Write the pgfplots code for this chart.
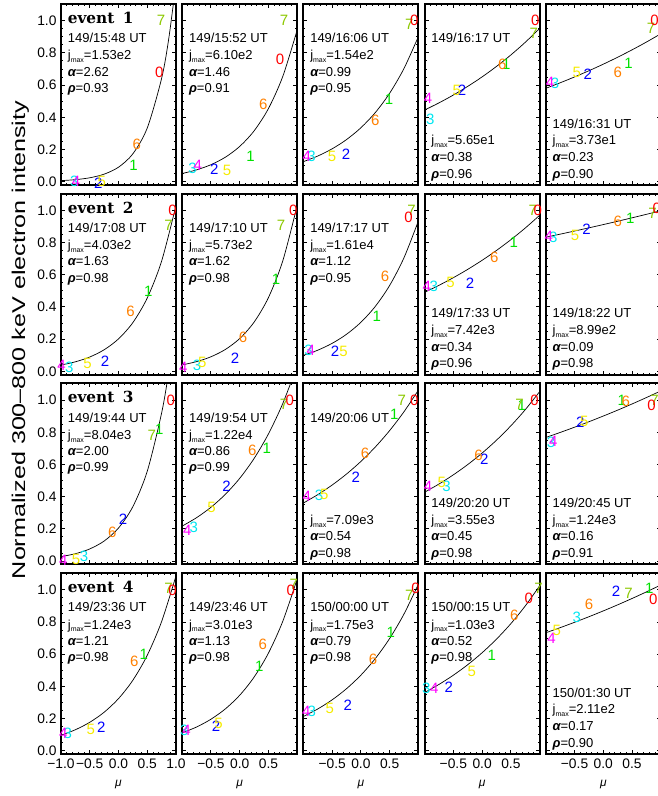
\documentclass[border=0pt]{standalone}
\usepackage{graphicx}
\usepackage{fontspec}
\setmainfont{Liberation Sans}
\newfontfamily\evfont{DejaVu Serif}
\usepackage{pgfplots}
\pgfplotsset{compat=1.18}

% colours of the eight sector numbers
\definecolor{d0}{RGB}{255,0,0}
\definecolor{d1}{RGB}{0,225,0}
\definecolor{d2}{RGB}{0,0,255}
\definecolor{d3}{RGB}{0,230,240}
\definecolor{d4}{RGB}{255,0,255}
\definecolor{d5}{RGB}{245,235,0}
\definecolor{d6}{RGB}{255,128,0}
\definecolor{d7}{RGB}{140,200,0}

\newcommand\jm{j\raisebox{-0.22em}{\fontsize{7}{7}\selectfont max}}
\newcommand\al{{\bfseries\itshape α}}
\newcommand\rh{{\bfseries\itshape ρ}}
\newcommand\evt[1]{\node[evnode] at (rel axis cs:0.058,0.892) {event\hspace{0.55em}#1};}
\newcommand\ttop[1]{\node[info] at (rel axis cs:0.058,0.785) {#1 UT};}
\newcommand\ftop[3]{%
  \node[info] at (rel axis cs:0.058,0.690) {\jm=#1};
  \node[info] at (rel axis cs:0.058,0.601) {\al=#2};
  \node[info] at (rel axis cs:0.058,0.511) {\rh=#3};}
\newcommand\tbot[1]{\node[info] at (rel axis cs:0.058,0.313) {#1 UT};}
\newcommand\fbot[3]{%
  \node[info] at (rel axis cs:0.058,0.221) {\jm=#1};
  \node[info] at (rel axis cs:0.058,0.129) {\al=#2};
  \node[info] at (rel axis cs:0.058,0.037) {\rh=#3};}

\tikzset{
  info/.style={anchor=base west, inner sep=0pt, font=\fontsize{13}{15}\selectfont},
  evnode/.style={anchor=base west, inner sep=0pt, font=\evfont\bfseries\fontsize{15.3}{17}\selectfont},
}

\pgfplotsset{
  panel/.style={
    scale only axis, width=115pt, height=181.1pt,
    xmin=-1, xmax=1, ymin=-0.02, ymax=1.105,
    anchor=north west,
    axis line style={line width=2pt},
    every tick/.style={black, line width=1pt},
    major tick length=4pt, minor tick length=2pt,
    xtick={-1,-0.5,0,0.5,1}, ytick={0,0.2,0.4,0.6,0.8,1},
    minor x tick num=4, minor y tick num=3,
    xticklabels={}, yticklabels={},
    tick label style={font=\fontsize{13.8}{14}\selectfont},
    xticklabel style={yshift=-1.5pt},
    yticklabel style={xshift=-1pt},
  },
  firstcol/.style={yticklabels={0.0,0.2,0.4,0.6,0.8,1.0}},
  lastrow/.style={
    xticklabels={{},−0.5,0.0,0.5,{}},
    xlabel={\itshape μ},
    xlabel style={at={(axis description cs:0.5,0)}, anchor=base, yshift=-32pt,
      font=\fontsize{12}{13}\selectfont},
  },
  lastrowfirst/.style={lastrow, xticklabels={−1.0,−0.5,0.0,0.5,1.0}},
  fit/.style={black, line width=0.7pt, smooth, mark=none},
  digits/.style={draw=none, mark=none, point meta=explicit symbolic,
    nodes near coords={\textcolor{d\pgfplotspointmeta}{\pgfplotspointmeta}},
    every node near coord/.style={anchor=center, inner sep=0pt,
      font=\fontsize{15}{15}\selectfont}},
}

\begin{document}
\begin{tikzpicture}

% ---------------- event 1 ----------------
\begin{axis}[panel, firstcol, at={(61pt,-3.8pt)}]
\addplot[fit] coordinates {(-1,0.00655) (-0.75,0.01261) (-0.5,0.02428) (-0.25,0.04675) (0,0.09) (0.25,0.17326) (0.5,0.33356) (0.75,0.64214) (0.875,0.891) (1,1.2362)};
\addplot[digits] table[row sep=\\, meta=d] {x y d\\ -0.77 0.00 3\\ -0.74 0.00 4\\ -0.35 -0.01 2\\ -0.29 0.00 5\\ 0.26 0.10 1\\ 0.32 0.23 6\\ 0.71 0.68 0\\ 0.74 1.00 7\\};
\evt{1}\ttop{149/15:48}\ftop{1.53e2}{2.62}{0.93}
\end{axis}

\begin{axis}[panel, at={(182.2pt,-3.8pt)}]
\addplot[fit] coordinates {(-1,0.05086) (-0.75,0.07326) (-0.5,0.10554) (-0.25,0.15203) (0,0.219) (0.25,0.31547) (0.5,0.45445) (0.75,0.65464) (1,0.94301)};
\addplot[digits] table[row sep=\\, meta=d] {x y d\\ -0.82 0.08 3\\ -0.73 0.10 4\\ -0.44 0.08 2\\ -0.22 0.07 5\\ 0.19 0.16 1\\ 0.41 0.48 6\\ 0.70 0.76 0\\ 0.77 1.00 7\\};
\ttop{149/15:52}\ftop{6.10e2}{1.46}{0.91}
\end{axis}

\begin{axis}[panel, at={(303.4pt,-3.8pt)}]
\addplot[fit] coordinates {(-1,0.12448) (-0.75,0.15943) (-0.5,0.20421) (-0.25,0.26155) (0,0.335) (0.25,0.42907) (0.5,0.54957) (0.75,0.70390) (1,0.90156)};
\addplot[digits] table[row sep=\\, meta=d] {x y d\\ -0.86 0.16 3\\ -0.94 0.16 4\\ -0.26 0.17 2\\ -0.50 0.155 5\\ 0.49 0.51 1\\ 0.25 0.38 6\\ 0.84 0.98 7\\ 0.93 1.00 0\\};
\ttop{149/16:06}\ftop{1.54e2}{0.99}{0.95}
\end{axis}

\begin{axis}[panel, at={(424.6pt,-3.8pt)}]
\addplot[fit] coordinates {(-1,0.44520) (-0.75,0.48956) (-0.5,0.53835) (-0.25,0.59200) (0,0.651) (0.25,0.71588) (0.5,0.78722) (0.75,0.86567) (1,0.95194)};
\addplot[digits] table[row sep=\\, meta=d] {x y d\\ -0.90 0.39 3\\ -0.94 0.52 4\\ -0.35 0.565 2\\ -0.44 0.57 5\\ 0.42 0.73 1\\ 0.35 0.73 6\\ 0.90 0.92 7\\ 0.925 1.00 0\\};
\ttop{149/16:17}\fbot{5.65e1}{0.38}{0.96}
\end{axis}

\begin{axis}[panel, at={(545.8pt,-3.8pt)}]
\addplot[fit] coordinates {(-1,0.58003) (-0.75,0.61435) (-0.5,0.65070) (-0.25,0.68921) (0,0.730) (0.25,0.77320) (0.5,0.81896) (0.75,0.86742) (1,0.91876)};
\addplot[digits] table[row sep=\\, meta=d] {x y d\\ -0.84 0.61 3\\ -0.925 0.615 4\\ -0.27 0.67 2\\ -0.46 0.68 5\\ 0.44 0.735 1\\ 0.25 0.68 6\\ 0.83 0.95 7\\ 0.89 1.00 0\\};
\tbot{149/16:31}\fbot{3.73e1}{0.23}{0.90}
\end{axis}

% ---------------- event 2 ----------------
\begin{axis}[panel, firstcol, at={(61pt,-193.5pt)}]
\addplot[fit] coordinates {(-1,0.03954) (-0.75,0.05943) (-0.5,0.08932) (-0.25,0.13426) (0,0.2018) (0.25,0.30332) (0.5,0.45590) (0.75,0.68525) (1,1.02998)};
\addplot[digits] table[row sep=\\, meta=d] {x y d\\ -0.855 0.025 3\\ -0.99 0.04 4\\ -0.235 0.06 2\\ -0.54 0.05 5\\ 0.52 0.50 1\\ 0.21 0.37 6\\ 0.87 0.91 7\\ 0.94 1.00 0\\};
\evt{2}\ttop{149/17:08}\ftop{4.03e2}{1.63}{0.98}
\end{axis}

\begin{axis}[panel, at={(182.2pt,-193.5pt)}]
\addplot[fit] coordinates {(-1,0.04037) (-0.75,0.06053) (-0.5,0.09075) (-0.25,0.13606) (0,0.204) (0.25,0.30586) (0.5,0.45857) (0.75,0.68754) (1,1.03082)};
\addplot[digits] table[row sep=\\, meta=d] {x y d\\ -0.74 0.04 3\\ -0.98 0.025 4\\ -0.08 0.08 2\\ -0.65 0.055 5\\ 0.63 0.57 1\\ 0.06 0.21 6\\ 0.72 0.91 7\\ 0.93 1.00 0\\};
\ttop{149/17:10}\ftop{5.73e2}{1.62}{0.98}
\end{axis}

\begin{axis}[panel, at={(303.4pt,-193.5pt)}]
\addplot[fit] coordinates {(-1,0.09952) (-0.75,0.13167) (-0.5,0.17422) (-0.25,0.23051) (0,0.305) (0.25,0.40355) (0.5,0.53395) (0.75,0.70649) (1,0.93478)};
\addplot[digits] table[row sep=\\, meta=d] {x y d\\ -0.91 0.13 3\\ -0.87 0.13 4\\ -0.45 0.125 2\\ -0.30 0.125 5\\ 0.275 0.34 1\\ 0.42 0.59 6\\ 0.88 1.00 7\\ 0.83 0.96 0\\};
\ttop{149/17:17}\ftop{1.61e4}{1.12}{0.95}
\end{axis}

\begin{axis}[panel, at={(424.6pt,-193.5pt)}]
\addplot[fit] coordinates {(-1,0.49112) (-0.75,0.53469) (-0.5,0.58213) (-0.25,0.63377) (0,0.690) (0.25,0.75122) (0.5,0.81786) (0.75,0.89042) (1,0.96942)};
\addplot[digits] table[row sep=\\, meta=d] {x y d\\ -0.84 0.53 3\\ -0.96 0.53 4\\ -0.21 0.55 2\\ -0.55 0.55 5\\ 0.55 0.80 1\\ 0.21 0.71 6\\ 0.88 1.00 7\\ 0.97 1.00 0\\};
\tbot{149/17:33}\fbot{7.42e3}{0.34}{0.96}
\end{axis}

\begin{axis}[panel, at={(545.8pt,-193.5pt)}]
\addplot[fit] coordinates {(-1,0.83351) (-0.75,0.85246) (-0.5,0.87187) (-0.25,0.89170) (0,0.912) (0.25,0.93276) (0.5,0.95398) (0.75,0.97568) (1,0.99788)};
\addplot[digits] table[row sep=\\, meta=d] {x y d\\ -0.87 0.83 3\\ -0.95 0.84 4\\ -0.29 0.88 2\\ -0.49 0.845 5\\ 0.47 0.95 1\\ 0.25 0.93 6\\ 0.855 0.98 7\\ 0.93 1.01 0\\};
\tbot{149/18:22}\fbot{8.99e2}{0.09}{0.98}
\end{axis}

% ---------------- event 3 ----------------
\begin{axis}[panel, firstcol, at={(61pt,-383.2pt)}]
\addplot[fit] coordinates {(-1,0.02778) (-0.75,0.04581) (-0.5,0.07553) (-0.25,0.12452) (0,0.2053) (0.25,0.33848) (0.5,0.55806) (0.75,0.92009) (0.875,1.18142) (1,1.51697)};
\addplot[digits] table[row sep=\\, meta=d] {x y d\\ -0.60 0.03 3\\ -0.96 0.005 4\\ 0.08 0.26 2\\ -0.74 0.01 5\\ 0.71 0.82 1\\ -0.11 0.18 6\\ 0.58 0.78 7\\ 0.91 1.00 0\\};
\evt{3}\ttop{149/19:44}\ftop{8.04e3}{2.00}{0.99}
\end{axis}

\begin{axis}[panel, at={(182.2pt,-383.2pt)}]
\addplot[fit] coordinates {(-1,0.21751) (-0.75,0.26968) (-0.5,0.33436) (-0.25,0.41456) (0,0.514) (0.25,0.63729) (0.5,0.79015) (0.75,0.97968) (1,1.21466)};
\addplot[digits] table[row sep=\\, meta=d] {x y d\\ -0.80 0.21 3\\ -0.91 0.19 4\\ -0.23 0.465 2\\ -0.49 0.335 5\\ 0.47 0.70 1\\ 0.22 0.69 6\\ 0.77 0.975 7\\ 0.87 1.00 0\\};
\ttop{149/19:54}\ftop{1.22e4}{0.86}{0.99}
\end{axis}

\begin{axis}[panel, at={(303.4pt,-383.2pt)}]
\addplot[fit] coordinates {(-1,0.36072) (-0.75,0.41286) (-0.5,0.47253) (-0.25,0.54083) (0,0.619) (0.25,0.70847) (0.5,0.81087) (0.75,0.92807) (1,1.06222)};
\addplot[digits] table[row sep=\\, meta=d] {x y d\\ -0.73 0.41 3\\ -0.94 0.40 4\\ -0.09 0.52 2\\ -0.635 0.415 5\\ 0.58 0.91 1\\ 0.07 0.67 6\\ 0.71 1.00 7\\ 0.93 1.00 0\\};
\ttop{149/20:06}\fbot{7.09e3}{0.54}{0.98}
\end{axis}

\begin{axis}[panel, at={(424.6pt,-383.2pt)}]
\addplot[fit] coordinates {(-1,0.42785) (-0.75,0.47879) (-0.5,0.53581) (-0.25,0.59961) (0,0.671) (0.25,0.75090) (0.5,0.84031) (0.75,0.94037) (1,1.05234)};
\addplot[digits] table[row sep=\\, meta=d] {x y d\\ -0.62 0.465 3\\ -0.94 0.465 4\\ 0.04 0.63 2\\ -0.70 0.49 5\\ 0.69 0.97 1\\ -0.06 0.66 6\\ 0.65 0.975 7\\ 0.91 1.00 0\\};
\tbot{149/20:20}\fbot{3.55e3}{0.45}{0.98}
\end{axis}

\begin{axis}[panel, at={(545.8pt,-383.2pt)}]
\addplot[fit] coordinates {(-1,0.76778) (-0.75,0.79912) (-0.5,0.83173) (-0.25,0.86567) (0,0.901) (0.25,0.93777) (0.5,0.97604) (0.75,1.01588) (1,1.05733)};
\addplot[digits] table[row sep=\\, meta=d] {x y d\\ -0.91 0.735 3\\ -0.87 0.745 4\\ -0.40 0.865 2\\ -0.33 0.87 5\\ 0.32 1.00 1\\ 0.39 0.995 6\\ 0.89 1.00 7\\ 0.84 0.97 0\\};
\tbot{149/20:45}\fbot{1.24e3}{0.16}{0.91}
\end{axis}

% ---------------- event 4 ----------------
\begin{axis}[panel, firstcol, lastrowfirst, at={(61pt,-572.9pt)}]
\addplot[fit] coordinates {(-1,0.09662) (-0.75,0.13075) (-0.5,0.17693) (-0.25,0.23943) (0,0.324) (0.25,0.43845) (0.5,0.59332) (0.75,0.80289) (1,1.08650)};
\addplot[digits] table[row sep=\\, meta=d] {x y d\\ -0.88 0.11 3\\ -0.96 0.11 4\\ -0.30 0.145 2\\ -0.48 0.135 5\\ 0.44 0.60 1\\ 0.275 0.555 6\\ 0.87 1.01 7\\ 0.94 0.995 0\\};
\evt{4}\ttop{149/23:36}\ftop{1.24e3}{1.21}{0.98}
\end{axis}

\begin{axis}[panel, lastrow, at={(182.2pt,-572.9pt)}]
\addplot[fit] coordinates {(-1,0.11145) (-0.75,0.14783) (-0.5,0.19608) (-0.25,0.26010) (0,0.345) (0.25,0.45762) (0.5,0.60701) (0.75,0.80516) (1,1.06799)};
\addplot[digits] table[row sep=\\, meta=d] {x y d\\ -0.965 0.13 3\\ -0.925 0.13 4\\ -0.41 0.155 2\\ -0.37 0.17 5\\ 0.34 0.525 1\\ 0.40 0.66 6\\ 0.94 1.035 7\\ 0.89 0.995 0\\};
\ttop{149/23:46}\ftop{3.01e3}{1.13}{0.98}
\end{axis}

\begin{axis}[panel, lastrow, at={(303.4pt,-572.9pt)}]
\addplot[fit] coordinates {(-1,0.21330) (-0.75,0.25988) (-0.5,0.31663) (-0.25,0.38577) (0,0.470) (0.25,0.57263) (0.5,0.69767) (0.75,0.85001) (1,1.03562)};
\addplot[digits] table[row sep=\\, meta=d] {x y d\\ -0.855 0.245 3\\ -0.95 0.245 4\\ -0.23 0.285 2\\ -0.54 0.265 5\\ 0.52 0.735 1\\ 0.21 0.57 6\\ 0.84 0.965 7\\ 0.95 1.01 0\\};
\ttop{150/00:00}\ftop{1.75e3}{0.79}{0.98}
\end{axis}

\begin{axis}[panel, lastrow, at={(424.6pt,-572.9pt)}]
\addplot[fit] coordinates {(-1,0.36206) (-0.75,0.41233) (-0.5,0.46957) (-0.25,0.53476) (0,0.609) (0.25,0.69355) (0.5,0.78983) (0.75,0.89948) (1,1.02436)};
\addplot[digits] table[row sep=\\, meta=d] {x y d\\ -0.97 0.385 3\\ -0.83 0.39 4\\ -0.58 0.395 2\\ -0.18 0.495 5\\ 0.17 0.59 1\\ 0.56 0.84 6\\ 0.98 1.01 7\\ 0.81 0.95 0\\};
\ttop{150/00:15}\ftop{1.03e3}{0.52}{0.98}
\end{axis}

\begin{axis}[panel, lastrow, at={(545.8pt,-572.9pt)}]
\addplot[fit] coordinates {(-1,0.73313) (-0.75,0.76497) (-0.5,0.79818) (-0.25,0.83284) (0,0.869) (0.25,0.90673) (0.5,0.94610) (0.75,0.98719) (1,1.03006)};
\addplot[digits] table[row sep=\\, meta=d] {x y d\\ -0.46 0.83 3\\ -0.90 0.70 4\\ 0.22 0.99 2\\ -0.81 0.745 5\\ 0.80 1.01 1\\ -0.25 0.91 6\\ 0.44 0.975 7\\ 0.87 0.94 0\\};
\tbot{150/01:30}\fbot{2.11e2}{0.17}{0.90}
\end{axis}

\node[rotate=90, anchor=base, inner sep=0pt] at (25pt,-340pt)
  {\fontsize{18.5}{20}\selectfont\scalebox{1.36}[1]{Normalized 300–800 keV electron intensity}};

\pgfresetboundingbox
\path[use as bounding box] (0pt,0pt) rectangle (658pt,-796pt);
\end{tikzpicture}
\end{document}
